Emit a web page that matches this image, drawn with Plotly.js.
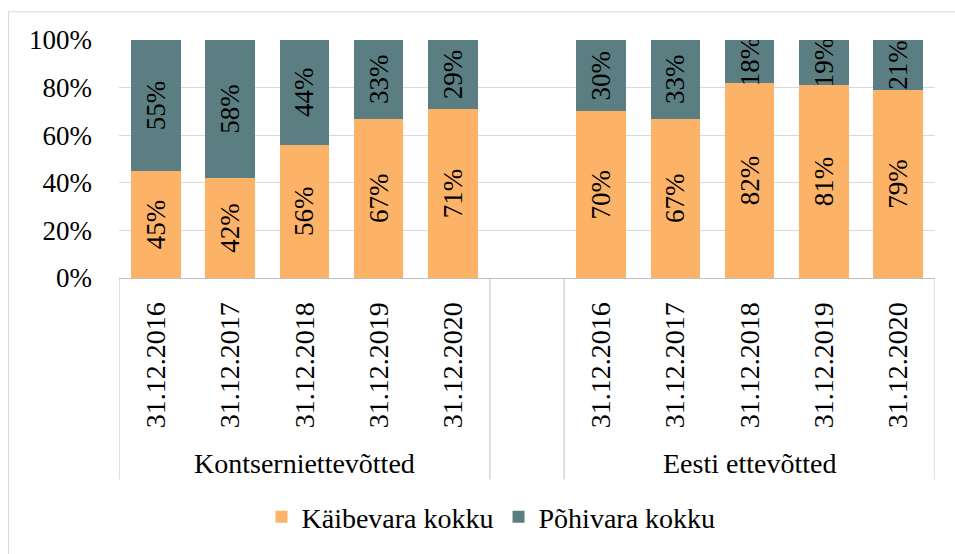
<!DOCTYPE html>
<html>
<head>
<meta charset="utf-8">
<script src="https://cdn.plot.ly/plotly-3.0.1.min.js"></script>
<style>
  html, body { margin: 0; padding: 0; background: #fff; }
  #chart { width: 955px; height: 554px; }
  svg text { font-family: "Liberation Serif", Times, serif !important; }
</style>
</head>
<body>
<div id="chart"></div>
<script>
// ---- data ----
const groups = ["Kontserniettevõtted", "Eesti ettevõtted"];
const dates = ["31.12.2016", "31.12.2017", "31.12.2018", "31.12.2019", "31.12.2020"];
const kaibevaraKontsern = [45, 42, 56, 67, 71];
const pohivaraKontsern = [55, 58, 44, 33, 29];
const kaibevaraEesti = [70, 67, 82, 81, 79];
const pohivaraEesti = [30, 33, 18, 19, 21];
const seriesNames = ["Käibevara kokku", "Põhivara kokku"];

// ---- layout helpers ----
const FONT = "Times";
const slotsPerGroup = dates.length + 1; // one empty slot between groups
const xPos = [];
const tickText = [];
groups.forEach((g, gi) => {
  dates.forEach((d, di) => {
    xPos.push(gi * slotsPerGroup + di);
    tickText.push(d);
  });
});
const kaibevara = kaibevaraKontsern.concat(kaibevaraEesti).map(v => v / 100);
const pohivara = pohivaraKontsern.concat(pohivaraEesti).map(v => v / 100);

const common = {
  type: "bar",
  x: xPos,
  texttemplate: "%{y:.0%}",
  textposition: "inside",
  insidetextanchor: "middle",
  textangle: -90,
  constraintext: "none",
  textfont: { family: FONT, size: 27, color: "#000" },
  hoverinfo: "skip"
};

const traces = [
  Object.assign({}, common, {
    name: seriesNames[0],
    y: kaibevara,
    marker: { color: "#FCB267", line: { width: 0 } }
  }),
  Object.assign({}, common, {
    name: seriesNames[1],
    y: pohivara,
    marker: { color: "#5B7E82", line: { width: 0 } }
  })
];

const L = 119, R = 935, T = 40, B = 280, W = 955, H = 554;
const pw = R - L, ph = B - T;
const py = (px) => (B - px) / ph;     // pixel y -> paper y
const pxx = (px) => (px - L) / pw;    // pixel x -> paper x

const lastSlot = groups.length * slotsPerGroup - 2;
const dividerX = [-0.5];
groups.forEach((g, gi) => {
  const start = gi * slotsPerGroup;
  const end = start + dates.length - 1;
  if (gi > 0) dividerX.push(start - 0.5);
  dividerX.push(end + 0.5);
});

const shapes = dividerX.map(xv => ({
  type: "line", xref: "x", yref: "paper",
  x0: xv, x1: xv, y0: 0, y1: py(483),
  line: { color: "#BFBFBF", width: 1 }
}));
// outer chart frame
shapes.push({
  type: "rect", xref: "paper", yref: "paper",
  x0: pxx(8.5), x1: pxx(1200), y0: py(900), y1: py(11.5),
  line: { color: "#D9D9D9", width: 1 }, fillcolor: "rgba(0,0,0,0)", layer: "below"
});

const annotations = groups.map((g, gi) => ({
  text: g, xref: "x", yref: "paper",
  x: gi * slotsPerGroup + (dates.length - 1) / 2, y: py(467),
  showarrow: false, xanchor: "center", yanchor: "middle",
  font: { family: FONT, size: 28, color: "#000" }
}));

const layout = {
  width: W, height: H,
  margin: { l: L, r: W - R, t: T, b: H - B, pad: 0 },
  paper_bgcolor: "#fff", plot_bgcolor: "#fff",
  barmode: "stack",
  bargap: 0.33,
  showlegend: true,
  legend: {
    orientation: "h", x: pxx(491), xanchor: "center", y: py(521), yanchor: "middle",
    font: { family: FONT, size: 28, color: "#000" },
    traceorder: "normal", itemclick: false
  },
  xaxis: {
    range: [-0.5, lastSlot + 0.5],
    tickmode: "array", tickvals: xPos, ticktext: tickText,
    tickangle: -90,
    ticks: "", showgrid: false, zeroline: false,
    showline: true, linecolor: "#BFBFBF", linewidth: 1,
    tickfont: { family: FONT, size: 28, color: "#000" },
    ticklabelstandoff: 12,
    fixedrange: true
  },
  yaxis: {
    range: [0, 1], tickmode: "linear", tick0: 0, dtick: 0.2,
    tickformat: ".0%",
    ticks: "", showgrid: true, gridcolor: "#D9D9D9", gridwidth: 1,
    zeroline: false, showline: false,
    tickfont: { family: FONT, size: 27, color: "#000" },
    ticklabelstandoff: 26,
    fixedrange: true
  },
  shapes: shapes,
  annotations: annotations,
  font: { family: FONT, color: "#000" }
};

Plotly.newPlot("chart", traces, layout, { displayModeBar: false, staticPlot: true });
</script>
</body>
</html>
